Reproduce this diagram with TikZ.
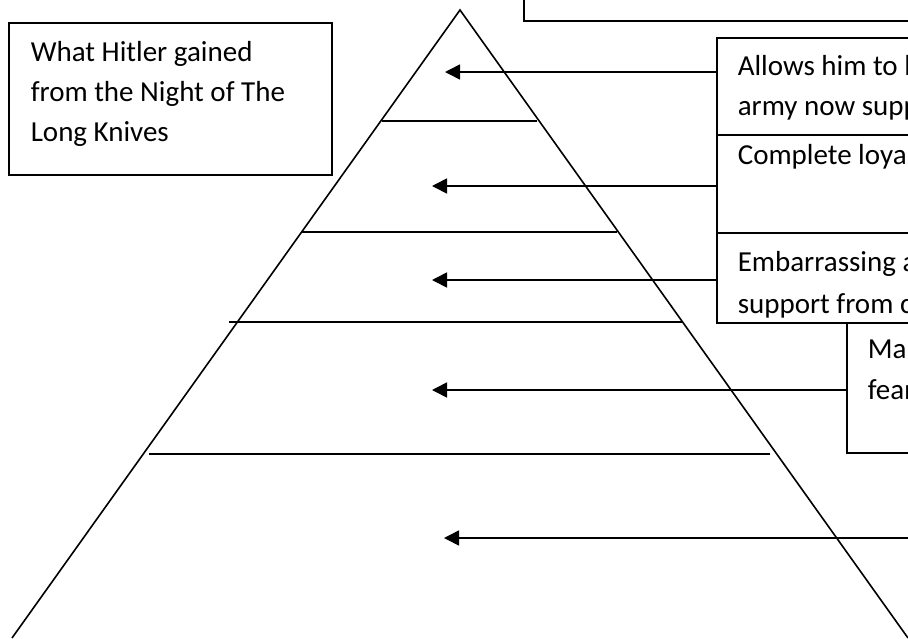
\documentclass[tikz,border=0pt]{standalone}
\usepackage{fontspec}
\setmainfont{Carlito}
\usetikzlibrary{arrows.meta}

\begin{document}
\begin{tikzpicture}[x=1pt, y=-1pt, line width=1.6pt,
    gainbox/.style={draw, inner sep=0pt, anchor=north west},
    gaintext/.style={anchor=base west, inner sep=0pt, font=\fontsize{29}{40}\selectfont},
    gainarrow/.style={-{Triangle[length=15pt,width=15pt]}}]
        \useasboundingbox (0,0) rectangle (908,638);
        \clip (0,0) rectangle (908,638);

        % The pyramid and its tiers
        \coordinate (apex) at (460,10);
        \coordinate (baseL) at (12,638);
        \coordinate (baseR) at (908,638);
        \draw (baseL) -- (apex) -- (baseR);
        \foreach \y/\a/\b in {121/382/537, 232/301/617, 322/229/682, 454/149/770}
            \draw (\a,\y) -- (\b,\y);

        % Title box
        \node[gainbox, minimum width=323pt, minimum height=152pt] (set0) at (8,22) {};
        \node[gaintext] (P1) at (30,61) {What Hitler gained};
        \node[gaintext] (P2) at (30,101) {from the Night of The};
        \node[gaintext] (P3) at (30,141) {Long Knives};

        % Boxes on the right
        \node[gainbox, anchor=south west, minimum width=450pt, minimum height=60pt] (set6) at (523,22) {};
        \node[gainbox, minimum width=240pt, minimum height=97pt] (set1) at (716,37) {};
        \node[gainbox, minimum width=240pt, minimum height=98pt] (set2) at (716,134) {};
        \node[gainbox, minimum width=240pt, minimum height=90pt] (set3) at (716,232) {};
        \node[gainbox, minimum width=120pt, minimum height=130pt] (set4) at (846,322) {};

        \node[gaintext] (A1) at (737,75) {Allows him to l};
        \node[gaintext] (A2) at (737,115) {army now supp};
        \node[gaintext] (B1) at (737,164) {Complete loya};
        \begin{scope}
            \clip (set3.north west) rectangle (set3.south east);
            \node[gaintext] (C1) at (737,271) {Embarrassing a};
            \node[gaintext] (C2) at (737,313) {support from c};
        \end{scope}
        \node[gaintext] (D1) at (867,358) {Mak};
        \node[gaintext] (D2) at (867,399) {fear};

        % Arrows into the tiers
        \coordinate (T1) at (445,72);
        \coordinate (T2) at (432,186);
        \coordinate (T3) at (432,280);
        \coordinate (T4) at (432,390);
        \coordinate (T5) at (444,538);
        \coordinate (E5) at (930,538);
        \draw[gainarrow] (set1.west |- T1) -- (T1);
        \draw[gainarrow] (set2.west |- T2) -- (T2);
        \draw[gainarrow] (set3.west |- T3) -- (T3);
        \draw[gainarrow] (set4.west |- T4) -- (T4);
        \draw[gainarrow] (E5) -- (T5);
    \end{tikzpicture}
\end{document}
